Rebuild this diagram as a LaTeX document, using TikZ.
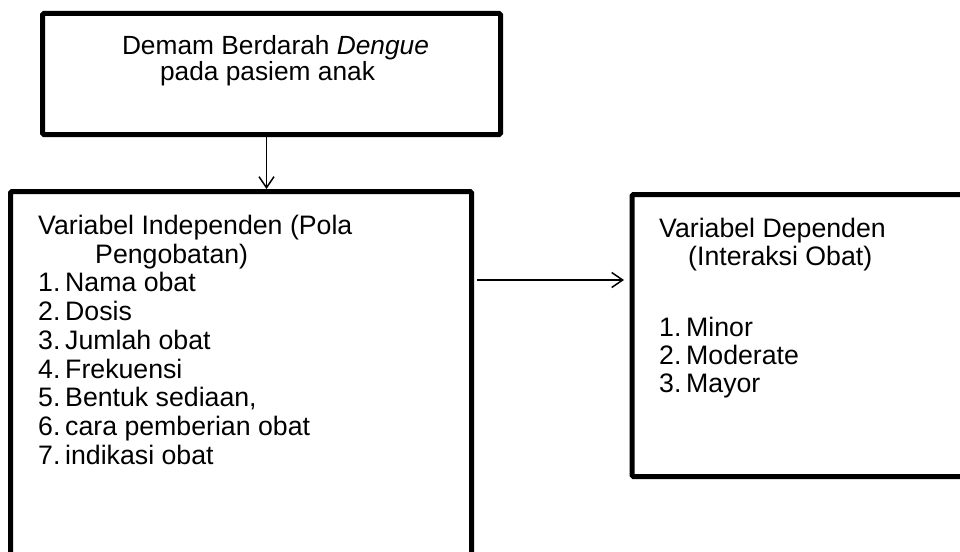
\documentclass[tikz,border=0pt]{standalone}
\usepackage{fontspec}
\setmainfont{Liberation Sans}
\usetikzlibrary{arrows.meta}
\tikzset{
  frame/.style={draw=black, line width=5pt, rounded corners=1.5pt, inner sep=0pt, outer sep=0pt},
  link/.style={draw=black, line width=1.5pt, -{Straight Barb[length=11pt,width=15pt,line width=1.5pt]}},
  bodytext/.style={font=\fontsize{26.7}{28.7}\selectfont, inner sep=0pt, anchor=base west},
  headtext/.style={font=\fontsize{26.3}{26}\selectfont, inner sep=0pt, anchor=base},
}
\begin{document}
\begin{tikzpicture}[x=1pt, y=-1pt]
  \useasboundingbox (0,0) rectangle (960,551);
  \clip (0,0) rectangle (960,551);

  % the three frames
  \node[frame, minimum width=458pt, minimum height=121pt] (top) at (271.5,74) {};
  \node[frame, minimum width=461pt, minimum height=428.5pt] (lbox) at (241,405.75) {};
  \node[frame, minimum width=378pt, minimum height=282pt] (rbox) at (821,335.5) {};

  % heading of the top frame
  \node[headtext] (t1) at (275.5,55) {Demam Berdarah \textit{Dengue}};
  \node[headtext] (t2) at (267.5,81) {pada pasiem anak};

  % independent variables
  \node[bodytext] (l1) at (38,234.5) {Variabel Independen (Pola};
  \node[bodytext] (l2) at (95,263.2) {Pengobatan)};
  \foreach \n/\txt [count=\i] in {1/Nama obat, 2/Dosis, 3/Jumlah obat, 4/Frekuensi,
      5/{Bentuk sediaan,}, 6/cara pemberian obat, 7/indikasi obat} {
    \node[bodytext] (ln\i) at (38,{291.9+28.7*(\i-1)}) {\n.};
    \node[bodytext] (li\i) at (65,{291.9+28.7*(\i-1)}) {\txt};
  }

  % dependent variables
  \node[bodytext] (r1) at (659,237.5) {Variabel Dependen};
  \node[bodytext] (r2) at (688,265.5) {(Interaksi Obat)};
  \foreach \n/\txt [count=\i] in {1/Minor, 2/Moderate, 3/Mayor} {
    \node[bodytext] (rn\i) at (659,{336+28*(\i-1)}) {\n.};
    \node[bodytext] (ri\i) at (686,{336+28*(\i-1)}) {\txt};
  }

  % connectors
  \coordinate (ax) at (266.5,0);
  \coordinate (ay) at (0,280);
  \draw[link, shorten >=2.5pt] (top.south -| ax) -- (lbox.north -| ax);
  \draw[link] ([xshift=5.5pt]lbox.east |- ay) -- ([xshift=-8pt]rbox.west |- ay);
\end{tikzpicture}
\end{document}
